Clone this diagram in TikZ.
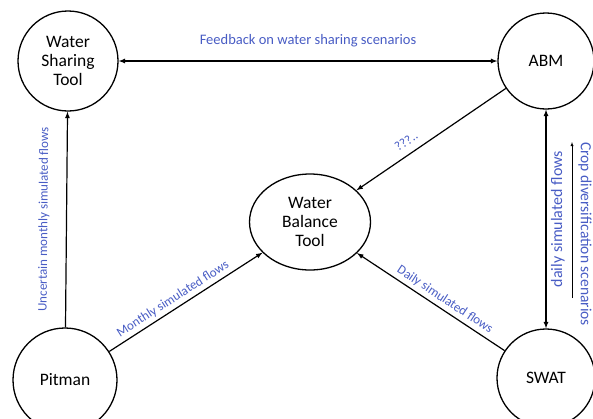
\documentclass[tikz,border=0pt]{standalone}
\usepackage{fontspec}
\setmainfont{Carlito}
\usetikzlibrary{arrows,positioning,shapes.geometric}
\definecolor{lblblue}{RGB}{72,92,196}
\tikzset{
        model/.style = {draw, line width=1.3pt, circle, minimum size=100pt, inner sep=0pt, align=center, font=\fontsize{17.5}{19}\selectfont},
        balance/.style = {draw, line width=1.3pt, ellipse, minimum width=121pt, minimum height=96pt, inner sep=0pt, align=center, font=\fontsize{17.5}{19}\selectfont},
        flow/.style = {line width=1.2pt},
        lbl/.style = {text=lblblue, font=\fontsize{13}{14}\selectfont},
    }

\begin{document}
\begin{tikzpicture}[x=1pt, y=-1pt, >=latex]
    \useasboundingbox (0,0) rectangle (593,418);
    \node [model] (wst) at (68,61) {Water\\Sharing\\Tool};
    \node [model, minimum size=96pt] (abm) at (546,61) {ABM};
    \node [balance] (wbt) at (310,222) {Water\\Balance\\Tool};
    \node [model, minimum size=104pt] (pitman) at (65,380) {Pitman};
    \node [model, minimum size=98pt] (swat) at (546,378) {SWAT};
    \coordinate (cropin) at (572,298);
    \coordinate (cropout) at (572,142);

    \draw [flow, <->] (wst) -- node [lbl, above=10pt, font=\fontsize{14.5}{15}\selectfont] {Feedback on water sharing scenarios} (abm);
    \draw [flow, ->] (pitman) -- node [lbl, sloped, above=13pt] {Uncertain monthly simulated flows} (wst);
    \draw [flow, ->] (pitman) -- node [lbl, sloped, above, pos=0.45] {Monthly simulated flows} (wbt);
    \draw [flow, ->] (swat) -- node [lbl, sloped, above, pos=0.44] {Daily simulated flows} (wbt);
    \draw [flow, ->] (abm) -- node [lbl, sloped, above=4pt, pos=0.62] {???..} (wbt);
    \draw [flow, <->] (swat) -- node [lbl, sloped, below=1pt, font=\fontsize{16}{17}\selectfont] {daily simulated flows} (abm);
    \draw [->] (cropin) -- (cropout);
    \node [lbl, rotate=-90, inner sep=1pt, font=\fontsize{15.5}{16}\selectfont] (croptext) at (585,234) {Crop diversification scenarios};

\end{tikzpicture}
\end{document}
